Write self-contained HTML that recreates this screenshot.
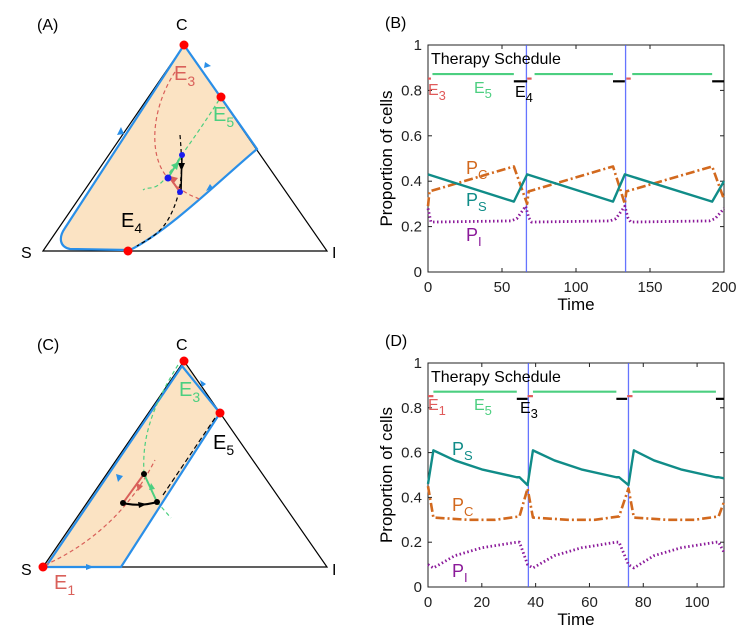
<!DOCTYPE html>
<html><head><meta charset="utf-8"><style>
body{margin:0;background:#fff}
svg{display:block;font-family:"Liberation Sans",Arial,sans-serif}
</style></head><body>
<svg id="fig" width="749" height="639" viewBox="0 0 749 639">
<!-- Panel A -->
<g>
<text x="37" y="30" font-size="16">(A)</text>
<path d="M184,45 L257,149 C220,180 170,230 130,250 L70,249 C60,247 58,238 65,228 Z" fill="#fbe3c3"/>
<polygon points="43,251 184,45 327,251" fill="none" stroke="#000" stroke-width="1.2"/>
<path d="M184,45 L257,149 C220,180 170,230 130,250 L70,249 C60,247 58,238 65,228 L184,45" fill="none" stroke="#2a8fe8" stroke-width="2.2"/>
<path d="M117,135 l4,-8 l3,7z M205,62 l6,4 l-7,2z M213,188 l-7,3 l4,-7z" fill="#2a8fe8"/>
<path d="M175,72 C150,110 148,160 170,180 S195,195 200,200" fill="none" stroke="#d9605a" stroke-width="1.2" stroke-dasharray="4,3"/>
<path d="M219,100 C200,130 185,150 170,172 S150,185 143,190" fill="none" stroke="#4ccf80" stroke-width="1.2" stroke-dasharray="4,3"/>
<path d="M180,135 C183,170 182,190 172,212 S150,238 137,246" fill="none" stroke="#000" stroke-width="1.2" stroke-dasharray="4,3"/>
<line x1="182" y1="155" x2="181" y2="192" stroke="#000" stroke-width="1.5"/>
<path d="M178,163 l7,0 l-3.5,8z" fill="#000"/>
<line x1="168" y1="178" x2="182" y2="155" stroke="#4ccf80" stroke-width="2"/>
<path d="M171,165 l8,-3 l-2,8z" fill="#4ccf80"/>
<line x1="180" y1="192" x2="170" y2="178" stroke="#d9605a" stroke-width="2"/>
<path d="M170,176 l8,2 l-5,6z" fill="#d9605a"/>
<circle cx="182" cy="155" r="3" fill="#1a1aee"/><circle cx="168" cy="178" r="3.5" fill="#1a1aee"/><circle cx="180" cy="192" r="3" fill="#1a1aee"/>
<circle cx="184" cy="45" r="4.5" fill="#f00"/><circle cx="221" cy="97" r="4.5" fill="#f00"/><circle cx="128" cy="251" r="4.5" fill="#f00"/>
<text x="176" y="30" font-size="16">C</text>
<text x="21" y="258" font-size="16">S</text>
<text x="332" y="258" font-size="16">I</text>
<text x="174" y="80" font-size="20" fill="#d9605a">E<tspan font-size="14" dy="6">3</tspan></text>
<text x="213" y="121" font-size="20" fill="#4ccf80">E<tspan font-size="14" dy="6">5</tspan></text>
<text x="121" y="227" font-size="20" fill="#000">E<tspan font-size="14" dy="6">4</tspan></text>
</g>
<!-- Panel C -->
<g>
<text x="37" y="350" font-size="16">(C)</text>
<polygon points="43,567 184,361 220,413 121,567" fill="#fbe3c3"/>
<polygon points="43,567 184,361 327,567" fill="none" stroke="#000" stroke-width="1.2"/>
<path d="M47,565 L182,366 L220,413 L121,567 L43,567" fill="none" stroke="#2a8fe8" stroke-width="2.2"/>
<path d="M116,474 l2,8 l5,-6z M86,564 l8,3 l-8,3z M202,387 l-2,-7 l6,4z" fill="#2a8fe8"/>
<path d="M45,565 C90,545 130,510 155,460" fill="none" stroke="#d9605a" stroke-width="1.2" stroke-dasharray="4,3"/>
<path d="M178,365 C150,410 142,440 144,474" fill="none" stroke="#4ccf80" stroke-width="1.2" stroke-dasharray="4,3"/>
<path d="M157,502 L171,518" fill="none" stroke="#4ccf80" stroke-width="1.2" stroke-dasharray="4,3"/>
<path d="M163,495 L215,418" fill="none" stroke="#000" stroke-width="1.2" stroke-dasharray="5,3"/>
<line x1="123" y1="503" x2="144" y2="474" stroke="#d9605a" stroke-width="2"/><path d="M136,483 l2,8 l5,-5z" fill="#d9605a"/>
<line x1="157" y1="502" x2="144" y2="474" stroke="#4ccf80" stroke-width="2"/><path d="M149,490 l6,-1 l-4,-6z" fill="#4ccf80"/>
<path d="M123,503 Q140,507 157,502" fill="none" stroke="#000" stroke-width="2"/><path d="M138,502 l9,2 l-8,4z" fill="#000"/>
<circle cx="144" cy="474" r="3" fill="#000"/><circle cx="123" cy="503" r="3" fill="#000"/><circle cx="157" cy="502" r="3" fill="#000"/>
<circle cx="184" cy="361" r="4.5" fill="#f00"/><circle cx="220" cy="413" r="4.5" fill="#f00"/><circle cx="43" cy="567" r="4.5" fill="#f00"/>
<text x="176" y="350" font-size="16">C</text>
<text x="21" y="575" font-size="16">S</text>
<text x="332" y="575" font-size="16">I</text>
<text x="179" y="396" font-size="20" fill="#4ccf80">E<tspan font-size="14" dy="6">3</tspan></text>
<text x="213" y="449" font-size="20" fill="#000">E<tspan font-size="14" dy="6">5</tspan></text>
<text x="54" y="589" font-size="20" fill="#d9605a">E<tspan font-size="14" dy="6">1</tspan></text>
</g>
<g id="pb"></g>
<g id="pd"></g>
</svg>
<script>
// Panel B data
const bTimesS=[0,58,67,125,133,192,200];
const bValsS=[0.43,0.31,0.43,0.31,0.43,0.31,0.40];
const bTimesC=[0,1,58,67,68,125,133,134,192,200];
const bValsC=[0.29,0.355,0.465,0.30,0.355,0.465,0.30,0.355,0.465,0.32];
const bTimesI=[0,2,56,60,66,68,70,123,127,133,135,137,190,194,200];
const bValsI=[0.28,0.22,0.225,0.235,0.29,0.24,0.22,0.225,0.235,0.29,0.24,0.22,0.225,0.235,0.28];
const bXTicks=[0,50,100,150,200];
const bGreen=[[3,58],[72,125],[138,192]];
const bRed=[[0,2],[67,70],[134,137]];
const bBlack=[[58,67],[125,133],[192,200]];
const bSwitch=[66.5,133.5];
// Panel D data
const dTimesS=[0,2,10,20,33,34,37,39,47,57,70,71,74.5,76.5,84,94,107,108,110];
const dValsS=[0.46,0.61,0.565,0.525,0.49,0.49,0.455,0.61,0.565,0.525,0.49,0.49,0.455,0.61,0.565,0.525,0.49,0.49,0.485];
const dTimesC=[0,2,15,25,34,37,39,52,62,71,74.5,76.5,89,99,108,110];
const dValsC=[0.45,0.31,0.30,0.30,0.315,0.44,0.31,0.30,0.30,0.315,0.44,0.31,0.30,0.30,0.315,0.38];
const dTimesI=[0,2,10,20,33,34,37,39,47,57,70,71,74.5,76.5,84,94,107,108,110];
const dValsI=[0.10,0.085,0.14,0.175,0.20,0.20,0.10,0.085,0.14,0.175,0.20,0.20,0.10,0.085,0.14,0.175,0.20,0.20,0.155];
const dXTicks=[0,20,40,60,80,100];
const dGreen=[[2,33],[39,70],[76,107]];
const dRed=[[0,2],[37,39],[74,76]];
const dBlack=[[33,37],[70,74],[107,110]];
const dSwitch=[37.3,74.5];
const yTicks=[0,0.2,0.4,0.6,0.8,1];
const NS='http://www.w3.org/2000/svg';
function mk(p,t,a){const e=document.createElementNS(NS,t);for(const k in a)e.setAttribute(k,a[k]);p.appendChild(e);return e;}
function panel(g,o){
 const x=v=>o.x0+(v-o.t0)/(o.t1-o.t0)*(o.x1-o.x0);
 const y=v=>o.y0-(v)*(o.y0-o.y1);
 const lbl=mk(g,'text',{x:o.x0-43,y:o.y1-17,'font-size':16});lbl.textContent=o.label;
 
 
 mk(g,'rect',{x:o.x0,y:o.y1,width:o.x1-o.x0,height:o.y0-o.y1,fill:'#fff',stroke:'#222','stroke-width':1});
 yTicks.forEach(v=>{
  mk(g,'line',{x1:o.x0,x2:o.x0+4,y1:y(v),y2:y(v),stroke:'#222'});
  mk(g,'line',{x1:o.x1,x2:o.x1-4,y1:y(v),y2:y(v),stroke:'#222'});
  const t=mk(g,'text',{x:o.x0-6,y:y(v)+5,'font-size':15,'text-anchor':'end',fill:'#222'});t.textContent=String(v);
  
  
 });
 o.xt.forEach(v=>{
  mk(g,'line',{x1:x(v),x2:x(v),y1:o.y0,y2:o.y0-4,stroke:'#222'});
  mk(g,'line',{x1:x(v),x2:x(v),y1:o.y1,y2:o.y1+4,stroke:'#222'});
  const t=mk(g,'text',{x:x(v),y:o.y0+20,'font-size':15,'text-anchor':'middle',fill:'#222'});t.textContent=String(v);
  
  
 });
 const xt=mk(g,'text',{x:(o.x0+o.x1)/2,y:o.y0+38,'font-size':17,'text-anchor':'middle'});xt.textContent='Time';
 
 
 const cy=(o.y0+o.y1)/2;
 const yt=mk(g,'text',{x:o.x0-36,y:cy,'font-size':17,'text-anchor':'middle',transform:`rotate(-90 ${o.x0-36} ${cy})`});yt.textContent='Proportion of cells';
 
 
 o.sw.forEach(v=>{const l=mk(g,'line',{x1:x(v),x2:x(v),y1:o.y0,y2:o.y1,stroke:'#4a5cff','stroke-width':1.3,'stroke-opacity':0.85});
  
  });
 const seg=(arr,val,col,nm)=>arr.forEach(s=>{const l=mk(g,'line',{x1:x(s[0]),x2:x(s[1]),y1:y(val),y2:y(val),stroke:col,'stroke-width':2.2});
  
  });
 seg(o.green,0.872,'#4ccf80','schedule-green');seg(o.red,0.852,'#e05a5a','schedule-red');seg(o.black,0.840,'#000','schedule-black');
 const line=(ts,vs,col,dash,nm,w)=>{const p=mk(g,'polyline',{points:ts.map((t,i)=>x(t)+','+y(vs[i])).join(' '),fill:'none',stroke:col,'stroke-width':w,'stroke-dasharray':dash,'stroke-linejoin':'round'});
  
  };
 line(o.tc,o.vc,'#d2691e','9,3,2,3','series-pc',2.6);
 line(o.ts,o.vs,'#108c88','','series-ps',2.4);
 line(o.ti,o.vi,'#8b1a9a','1.5,2.5','series-pi',2.8);
 const th=mk(g,'text',{x:o.x0+3,y:o.y1+19,'font-size':16});th.textContent='Therapy Schedule';
 
 
 o.texts.forEach(a=>{const t=mk(g,'text',{x:a[0],y:a[1],'font-size':a[4]||16,fill:a[3]});t.innerHTML=a[2];
  
  });
}
const sub=(b,s)=>b+'<tspan font-size="13" dy="5">'+s+'</tspan>';
panel(document.getElementById('pb'),{label:'(B)',name:'panel-b',x0:428,x1:724,y0:272,y1:45,t0:0,t1:200,xt:bXTicks,sw:bSwitch,green:bGreen,red:bRed,black:bBlack,
 ts:bTimesS,vs:bValsS,tc:bTimesC,vc:bValsC,ti:bTimesI,vi:bValsI,
 texts:[[428,95,sub('E','3'),'#e05a5a'],[474,93,sub('E','5'),'#4ccf80'],[515,97,sub('E','4'),'#000'],[466,174,sub('P','C'),'#d2691e',18],[466,206,sub('P','S'),'#108c88',18],[466,241,sub('P','I'),'#8b1a9a',18]]});
panel(document.getElementById('pd'),{label:'(D)',name:'panel-d',x0:428,x1:724,y0:587,y1:363,t0:0,t1:110,xt:dXTicks,sw:dSwitch,green:dGreen,red:dRed,black:dBlack,
 ts:dTimesS,vs:dValsS,tc:dTimesC,vc:dValsC,ti:dTimesI,vi:dValsI,
 texts:[[428,410,sub('E','1'),'#e05a5a'],[474,410,sub('E','5'),'#4ccf80'],[520,413,sub('E','3'),'#000'],[452,455,sub('P','S'),'#108c88',18],[452,511,sub('P','C'),'#d2691e',18],[452,577,sub('P','I'),'#8b1a9a',18]]});
</script>
</body></html>
